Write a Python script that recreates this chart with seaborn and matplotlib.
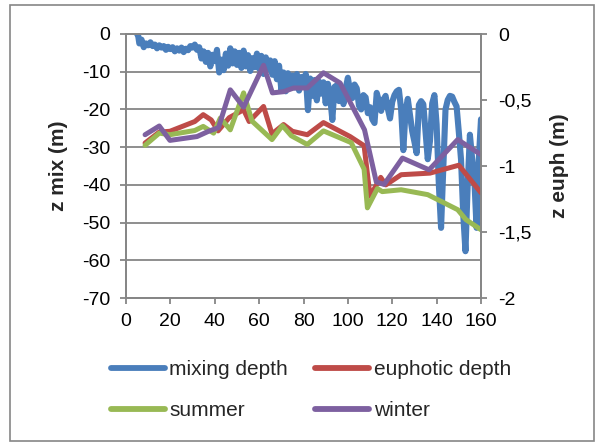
import matplotlib
matplotlib.use("Agg")
import matplotlib.pyplot as plt
import seaborn as sns
import pandas as pd
from matplotlib.patches import Rectangle

# ---------------- data ----------------
mix_day = [5, 5.5, 6, 7, 8, 9, 10, 11, 12, 13, 14, 15, 16, 17, 18, 19, 20, 21, 22, 23,
           24, 25, 26, 27, 28, 29, 30, 31, 32, 33, 34, 35, 36, 37, 38, 39, 40, 41, 42, 43,
           44, 45, 46, 47, 48, 49, 50, 51, 52, 53, 54, 55, 56, 57, 58, 59, 60, 61, 62, 63,
           64, 65, 66, 67, 68, 69, 70, 71, 72, 73, 74, 75, 76, 77, 78, 79, 80, 81, 82, 83,
           84, 85, 86, 87, 88, 89, 90, 91, 92, 93, 94, 95, 96, 97, 98, 99, 100, 101, 102, 103,
           104, 105, 106, 107, 108, 109, 110, 111, 112, 113, 114, 115, 116, 117, 118, 119, 120,
           121, 122, 123, 124, 125, 126, 127, 128, 129, 130, 131, 132, 133, 134, 135, 136, 137,
           138, 139, 140, 141, 142, 143, 144, 145, 146, 147, 148, 149, 150, 151, 152, 153, 154,
           155, 156, 157, 158, 159, 160]
mix_depth = [0, -0.5, -2.5, -1.5, -3.5, -2.5, -3.0, -2.2, -3.2, -2.8, -3.8, -3.0, -3.6, -3.2,
             -4.2, -3.4, -4.0, -3.5, -4.6, -3.8, -4.4, -3.6, -4.8, -3.9, -4.3, -3.2, -3.6, -2.8,
             -4.2, -3.5, -6.5, -4.6, -7.4, -5.0, -8.6, -5.5, -7.2, -4.2, -10.2, -6.8, -9.6, -5.2,
             -8.4, -3.8, -7.8, -4.6, -8.2, -5.0, -9.0, -4.4, -8.6, -5.6, -9.8, -6.4, -8.8, -5.2,
             -9.2, -5.8, -10.6, -6.2, -9.4, -7.0, -10.8, -7.2, -12.0, -8.4, -14.8, -10.2, -15.2,
             -10.4, -13.6, -11.0, -14.2, -10.6, -15.0, -11.4, -13.2, -10.6, -20.2, -11.8, -16.4,
             -12.2, -17.6, -12.6, -15.8, -12.8, -18.4, -13.2, -16.6, -22.8, -14.0, -13.6, -17.8,
             -15.0, -18.6, -14.4, -11.6, -15.2, -17.0, -13.4, -14.4, -19.0, -20.0, -16.2, -16.8,
             -21.0, -19.4, -22.6, -23.6, -15.6, -17.8, -20.4, -17.4, -16.4, -19.8, -22.4, -18.0,
             -16.2, -15.2, -14.8, -20.0, -30.8, -20.4, -17.2, -21.6, -25.8, -28.6, -31.6, -18.8,
             -17.8, -18.6, -26.0, -33.2, -28.4, -18.4, -16.2, -24.0, -40.0, -51.4, -36.0, -20.0,
             -17.5, -16.4, -16.6, -18.0, -19.2, -26.0, -33.3, -48.0, -57.6, -40.0, -26.7, -33.0,
             -38.6, -51.4, -33.3, -22.6]

euph_day = [8.6, 15.0, 19.8, 31.0, 34.8, 38.4, 41.5, 46.5, 53.0, 55.5, 62.0, 65.8, 71.0,
            75.0, 81.7, 89.0, 101.0, 107.3, 110.0, 114.8, 117.1, 124.0, 137.0, 150.0, 160.0]
euph_depth = [-0.826, -0.743, -0.737, -0.663, -0.611, -0.651, -0.734, -0.634, -0.574, -0.663,
              -0.549, -0.757, -0.686, -0.737, -0.763, -0.671, -0.777, -0.846, -1.229, -1.086,
              -1.143, -1.066, -1.054, -0.994, -1.203]

summer_day = [8.6, 15.0, 19.8, 31.0, 34.8, 39.5, 42.5, 47.0, 53.0, 56.8, 65.8, 70.5, 74.5,
              81.7, 89.0, 101.5, 107.3, 108.8, 113.3, 115.5, 124.0, 136.0, 149.5, 153.2, 160.0]
summer_depth = [-0.843, -0.751, -0.763, -0.731, -0.700, -0.751, -0.637, -0.726, -0.446, -0.660,
                -0.800, -0.694, -0.771, -0.837, -0.734, -0.823, -1.023, -1.317, -1.171, -1.194,
                -1.180, -1.217, -1.331, -1.406, -1.483]

winter_day = [8.6, 15.0, 19.8, 32.0, 37.2, 41.7, 47.0, 53.0, 62.0, 66.0, 71.0, 75.6, 81.7,
              89.0, 96.5, 107.5, 112.8, 116.3, 124.6, 136.6, 149.5, 160.0]
winter_depth = [-0.763, -0.697, -0.806, -0.777, -0.737, -0.709, -0.423, -0.554, -0.237, -0.446,
                -0.437, -0.409, -0.409, -0.294, -0.371, -0.726, -1.120, -1.140, -0.940, -1.029,
                -0.800, -0.914]

x_ticks = [0, 20, 40, 60, 80, 100, 120, 140, 160]
left_ticks = [0, -10, -20, -30, -40, -50, -60, -70]
right_ticks = [0, -0.5, -1, -1.5, -2]
right_tick_labels = ["0", "-0,5", "-1", "-1,5", "-2"]
series_names = ["mixing depth", "euphotic depth", "summer", "winter"]

# ---------------- style ----------------
sns.set_style("white")
plt.rcParams["font.family"] = ["Liberation Sans", "DejaVu Sans"]
plt.rcParams["axes.unicode_minus"] = False

BLUE = "#4A7EBB"
RED = "#BE4B48"
GREEN = "#98B954"
PURPLE = "#7D60A0"
GRID = "#868686"

W, H = 598, 444
fig = plt.figure(figsize=(W / 100, H / 100), dpi=100)
fig.patch.set_facecolor("white")
fig.add_artist(Rectangle((10 / W, 1 - 441 / H), (594 - 10) / W, (441 - 5) / H,
                         transform=fig.transFigure, fill=False, edgecolor=GRID, lw=1.2))

L, R, T, B = 126, 481, 34, 298
ax = fig.add_axes([L / W, 1 - B / H, (R - L) / W, (B - T) / H])
ax2 = ax.twinx()

line_kw = dict(solid_joinstyle="round", solid_capstyle="round")
mix_df = pd.DataFrame({"day": mix_day, "z": mix_depth})
sns.lineplot(data=mix_df, x="day", y="z", ax=ax, color=BLUE, lw=4.4, sort=False,
             estimator=None, legend=False, **line_kw)

for xs, ys, c in [(euph_day, euph_depth, RED), (summer_day, summer_depth, GREEN),
                  (winter_day, winter_depth, PURPLE)]:
    df = pd.DataFrame({"day": xs, "z": ys})
    sns.lineplot(data=df, x="day", y="z", ax=ax2, color=c, lw=3.6, sort=False,
                 estimator=None, legend=False, **line_kw)

ax.set_xlim(0, 160)
ax.set_ylim(-70, 0)
ax2.set_ylim(-2, 0)
ax.set_xticks(x_ticks)
ax.set_yticks(left_ticks)
ax2.set_yticks(right_ticks)
ax2.set_yticklabels(right_tick_labels)

ax.yaxis.grid(True, color=GRID, lw=1.3)
ax.xaxis.grid(False)
ax.set_axisbelow(True)

for a in (ax, ax2):
    for s in a.spines.values():
        s.set_color(GRID)
        s.set_linewidth(1.3)
    a.tick_params(axis="both", colors=GRID, labelcolor="black", labelsize=14,
                  length=4.5, width=1.3, direction="out")

ax.tick_params(axis="y", left=True, pad=7)
ax.tick_params(axis="x", bottom=True, pad=6)
ax2.tick_params(axis="y", right=True, pad=8)

ax.set_xlabel("")
ax.set_ylabel("z mix (m)", fontsize=15, fontweight="bold")
ax2.set_ylabel("z euph (m)", fontsize=15, fontweight="bold", rotation=90)
ax.yaxis.set_label_coords((59 - L) / (R - L), 0.5)
ax2.yaxis.set_label_coords((560 - L) / (R - L), 0.5)
ax.yaxis.label.set_va("center")
ax2.yaxis.label.set_va("center")

lines = ax.get_lines()[:1] + ax2.get_lines()[:3]
order = [0, 2, 1, 3]
leg = fig.legend([lines[i] for i in order], [series_names[i] for i in order],
                 loc="center", bbox_to_anchor=(311 / W, 1 - 390 / H), ncol=2, frameon=False,
                 fontsize=15, handlelength=2.6, handletextpad=0.2, columnspacing=1.3,
                 labelspacing=1.05)
for h in leg.legend_handles:
    h.set_linewidth(4.2)

fig.savefig("out.png", dpi=100)
